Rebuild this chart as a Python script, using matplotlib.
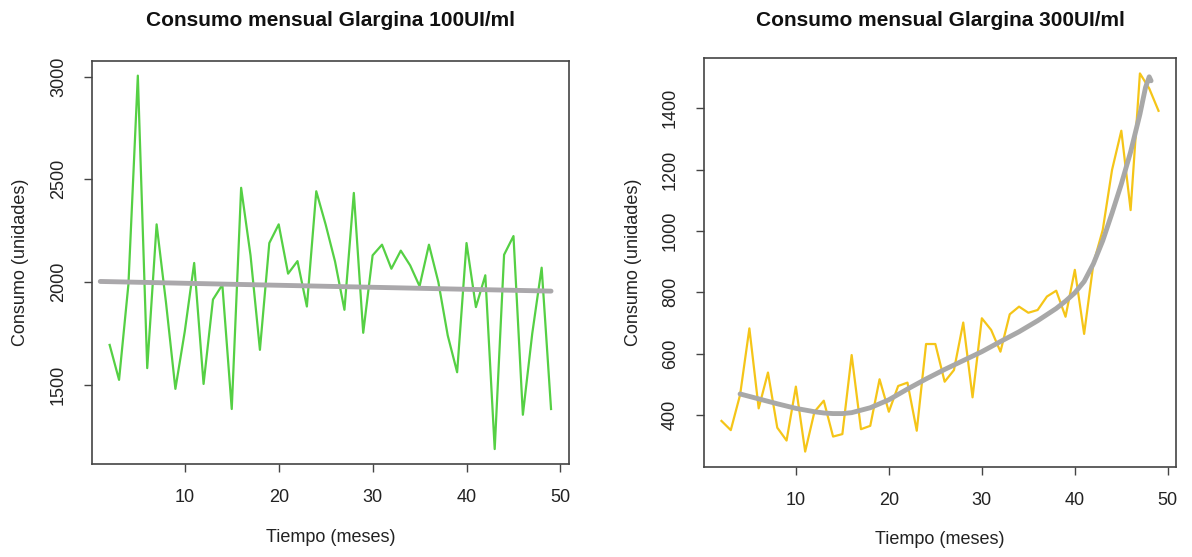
import numpy as np
import matplotlib
matplotlib.use("Agg")
import matplotlib.pyplot as plt

plt.rcParams['font.family'] = ['Liberation Sans', 'DejaVu Sans']

# months
meses = list(range(2, 50))

# Glargina 100UI/ml monthly consumption
consumo_100 = [1694, 1524, 1990, 3005, 1581, 2281, 1900, 1480, 1760, 2093,
               1504, 1915, 1987, 1382, 2459, 2130, 1670, 2190, 2281, 2041,
               2102, 1881, 2442, 2280, 2100, 1865, 2434, 1753, 2130, 2182,
               2065, 2153, 2081, 1980, 2182, 2000, 1740, 1561, 2190, 1878,
               2033, 1187, 2133, 2224, 1354, 1750, 2070, 1382]
# linear trend (start/end)
trend_100_x = [1, 49]
trend_100_y = [2003, 1956]

# Glargina 300UI/ml monthly consumption
consumo_300 = [380, 350, 465, 682, 421, 538, 358, 316, 492, 280,
               410, 446, 329, 337, 595, 353, 364, 516, 410, 494,
               505, 348, 631, 631, 508, 546, 701, 457, 715, 677,
               606, 728, 753, 733, 742, 786, 805, 720, 873, 664,
               894, 1003, 1199, 1327, 1068, 1514, 1465, 1392]
# smoothed curve
suave_300_x = [4, 6, 8, 10, 12, 13, 14, 15, 16, 18, 20, 22, 24, 26, 28, 30, 32,
               34, 36, 38, 39, 40, 41, 42, 43, 44, 45, 46, 47, 47.6, 48, 48.2]
suave_300_y = [468, 452, 436, 421, 410, 406, 404, 404, 407, 423, 449, 484, 517,
               548, 577, 606, 639, 671, 707, 747, 771, 798, 835, 893, 968, 1058,
               1153, 1258, 1381, 1468, 1503, 1490]

x_ticks = [10, 20, 30, 40, 50]
y_ticks_100 = [1500, 2000, 2500, 3000]
y_ticks_300 = [400, 600, 800, 1000, 1200, 1400]

W, H = 1192, 557
fig = plt.figure(figsize=(W / 100, H / 100), dpi=100)


def r_limits(v):
    lo, hi = min(v), max(v)
    r = hi - lo
    return lo - 0.04 * r, hi + 0.04 * r


def style_axes(ax, x, y, yticks):
    ax.set_xlim(*r_limits(x))
    ax.set_ylim(*r_limits(y))
    ax.set_xticks(x_ticks)
    ax.set_yticks(yticks)
    ax.set_yticklabels([str(t) for t in yticks], rotation=90, va='center')
    ax.tick_params(axis='both', direction='out', length=6, width=1,
                   color='#444444', labelcolor='#222222', labelsize=13, pad=12)
    for s in ax.spines.values():
        s.set_color('#444444')
        s.set_linewidth(1.2)
    ax.set_xlabel('Tiempo (meses)', fontsize=13, color='#222222', va='center')
    ax.set_ylabel('Consumo (unidades)', fontsize=13, color='#222222', va='center')


# left panel
ax1 = fig.add_axes([92 / W, 1 - 464 / H, (568.7 - 92) / W, (464 - 60.7) / H])
ax1.plot(meses, consumo_100, color='#55d044', lw=1.6)
ax1.plot(trend_100_x, trend_100_y, color='#aaa8ab', lw=3.5, solid_capstyle='round')
style_axes(ax1, meses, consumo_100, y_ticks_100)
ax1.xaxis.set_label_coords(0.5, -0.183)
ax1.yaxis.set_label_coords(-0.151, 0.5)
fig.text((92 + 568.7) / 2 / W, 1 - 21 / H, 'Consumo mensual Glargina 100UI/ml',
         ha='center', va='center', fontsize=15, fontweight='bold', color='#111111')

# right panel
ax2 = fig.add_axes([704 / W, 1 - 466.7 / H, (1176 - 704) / W, (466.7 - 58.3) / H])
ax2.plot(meses, consumo_300, color='#f5c518', lw=1.6)
ax2.plot(suave_300_x, suave_300_y, color='#a8a8a8', lw=3.5, solid_capstyle='round')
style_axes(ax2, meses, consumo_300, y_ticks_300)
ax2.xaxis.set_label_coords(0.5, -0.178)
ax2.yaxis.set_label_coords(-0.150, 0.5)
fig.text((704 + 1176) / 2 / W, 1 - 21 / H, 'Consumo mensual Glargina 300UI/ml',
         ha='center', va='center', fontsize=15, fontweight='bold', color='#111111')

fig.savefig('out.png', dpi=100)
